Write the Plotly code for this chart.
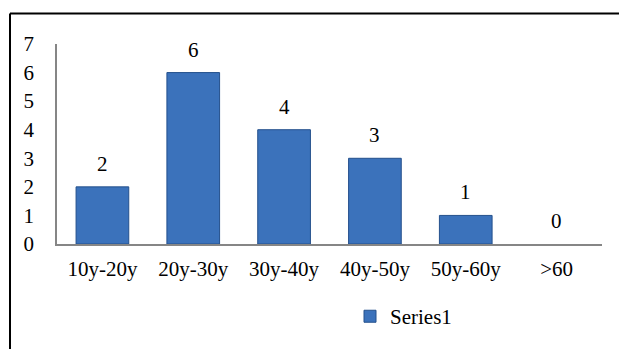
import plotly.graph_objects as go

categories = ["10y-20y", "20y-30y", "30y-40y", "40y-50y", "50y-60y", ">60"]
values = [2, 6, 4, 3, 1, 0]
series_name = "Series1"
y_ticks = [0, 1, 2, 3, 4, 5, 6, 7]

FONT = "Liberation Serif, Times New Roman, serif"
FS = 21

fig = go.Figure()
fig.add_trace(go.Bar(
    x=categories, y=values, name=series_name,
    marker=dict(color="#3b72bb",
                line=dict(color="#24508c",
                          width=[1 if v > 0 else 0 for v in values])),
    showlegend=True,
))

for c, v in zip(categories, values):
    fig.add_annotation(x=c, y=v, text=str(v), showarrow=False,
                       yanchor="middle", yshift=23,
                       font=dict(family=FONT, size=FS, color="#000"))

L, R, T, B = 57, 17, 44, 102.5
W, H = 619, 349
pw, ph = W - L - R, H - T - B

def px_x(p):
    return (p - L) / pw

def px_y(p):
    return (H - B - p) / ph

# outer chart border (top and left edges visible)
fig.add_shape(type="line", xref="paper", yref="paper",
              x0=px_x(10), x1=px_x(640), y0=px_y(13), y1=px_y(13),
              line=dict(color="#000", width=2))
fig.add_shape(type="line", xref="paper", yref="paper",
              x0=px_x(10), x1=px_x(10), y0=px_y(13), y1=px_y(360),
              line=dict(color="#000", width=2))

fig.update_layout(
    width=W, height=H,
    margin=dict(l=L, r=R, t=T, b=B),
    paper_bgcolor="white", plot_bgcolor="white",
    bargap=0.42,
    font=dict(family=FONT, size=FS, color="#000"),
    xaxis=dict(showline=True, linecolor="#868686", linewidth=1.5,
               showgrid=False, ticks="", tickfont=dict(size=FS),
               ticklabelstandoff=5),
    yaxis=dict(range=[0, 7], tickvals=y_ticks, showline=True,
               linecolor="#868686", linewidth=1.5, showgrid=False,
               zeroline=False, ticks="", tickfont=dict(size=FS),
               ticklabelstandoff=17),
    legend=dict(orientation="h", x=px_x(350), y=px_y(320),
                xanchor="left", yanchor="middle",
                font=dict(size=FS), itemwidth=30),
    showlegend=True,
)

fig.write_html("out.html")
